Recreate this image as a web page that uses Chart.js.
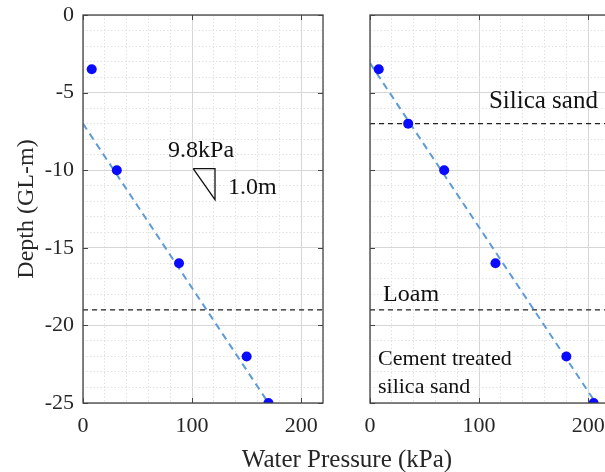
<!DOCTYPE html>
<html>
<head>
<meta charset="utf-8">
<script src="https://cdn.jsdelivr.net/npm/chart.js@4.4.1/dist/chart.umd.min.js"></script>
<style>
  html, body { margin: 0; padding: 0; background: #fff; }
  #wrap { position: relative; width: 605px; height: 472px; overflow: hidden; }
  #left { position: absolute; left: 0; top: 0; }
  #right { position: absolute; left: 345px; top: 0; }
  #xtitle {
    position: absolute; left: 197px; top: 444px; width: 300px;
    text-align: center; font: 25px "Liberation Serif", serif; color: #262626;
    line-height: 30px;
  }
</style>
</head>
<body>
<div id="wrap">
  <canvas id="left" width="345" height="472"></canvas>
  <canvas id="right" width="280" height="472"></canvas>
  <div id="xtitle">Water Pressure (kPa)</div>
</div>
<script>
// measured pore water pressure, left panel
const pressureA = [8, 31, 88, 150, 170]
const depthA = [-3.5, -10, -16, -22, -25]
// measured pore water pressure, right panel
const pressureB = [8, 35, 68, 115, 180, 205]
const depthB = [-3.5, -7, -10, -16, -22, -25]

// hydrostatic fit lines
const fitPressureA = [0, 170]
const fitDepthA = [-7, -25]
const fitPressureB = [0, 207]
const fitDepthB = [-3.1, -25]

// layer boundaries
const layersA = [-19]
const layersB = [-7, -19]

// slope triangle (9.8kPa / 1.0m)
const trianglePressure = [101, 121, 121, 101]
const triangleDepth = [-9.9, -9.9, -11.9, -9.9]

const xMin = 0, xMax = 220
const yMin = -25, yMax = 0
const xTicks = [0, 100, 200]
const yTicks = [0, -5, -10, -15, -20, -25]

const notesA = [
  { text: '9.8kPa', x: 78, y: -8.75, size: 24 },
  { text: '1.0m', x: 133, y: -11.1, size: 24 },
]
const notesB = [
  { text: 'Silica sand', x: 109, y: -5.6, size: 25 },
  { text: 'Loam', x: 12, y: -18.0, size: 24 },
  { text: 'Cement treated', x: 7.3, y: -22.2, size: 22 },
  { text: 'silica sand', x: 7.3, y: -24.0, size: 22 },
]

const FONT = '"Liberation Serif", serif'
const toPoints = (xs, ys) => xs.map((x, i) => ({ x, y: ys[i] }))

// box + inward ticks on all sides, like the original figure
const frame = {
  id: 'frame',
  afterDraw(chart) {
    const { ctx, chartArea: a, scales } = chart
    ctx.save()
    ctx.strokeStyle = '#444'
    ctx.lineWidth = 1.3
    ctx.strokeRect(a.left, a.top, a.right - a.left, a.bottom - a.top)
    ctx.lineWidth = 1
    ctx.beginPath()
    xTicks.forEach(v => {
      const px = Math.round(scales.x.getPixelForValue(v)) + 0.5
      ctx.moveTo(px, a.bottom); ctx.lineTo(px, a.bottom - 5)
      ctx.moveTo(px, a.top); ctx.lineTo(px, a.top + 5)
    })
    yTicks.forEach(v => {
      const py = Math.round(scales.y.getPixelForValue(v)) + 0.5
      ctx.moveTo(a.left, py); ctx.lineTo(a.left + 5, py)
      ctx.moveTo(a.right, py); ctx.lineTo(a.right - 5, py)
    })
    ctx.stroke()
    ctx.restore()
  }
}

const notes = {
  id: 'notes',
  afterDatasetsDraw(chart, args, opts) {
    const { ctx, scales } = chart
    ctx.save()
    ctx.fillStyle = '#111'
    ctx.textAlign = 'left'
    ctx.textBaseline = 'middle'
    ;(opts.items || []).forEach(n => {
      ctx.font = n.size + 'px ' + FONT
      ctx.fillText(n.text, scales.x.getPixelForValue(n.x), scales.y.getPixelForValue(n.y))
    })
    ctx.restore()
  }
}

function makeScales(showY, yWidth) {
  return {
    x: {
      type: 'linear', min: xMin, max: xMax,
      afterFit: s => { s.height = 69; s.paddingLeft = 0; s.paddingRight = 0 },
      ticks: {
        stepSize: 20, autoSkip: false, maxRotation: 0, padding: 10,
        color: '#262626', font: { family: FONT, size: 22 },
        callback: v => (v % 100 === 0 ? String(v) : '')
      },
      grid: {
        drawTicks: false,
        color: c => (c.tick && c.tick.value % 100 === 0 ? '#d6d6d6' : '#e2e2e2'),
        lineWidth: 1
      },
      border: { display: false, dash: c => (c.tick && c.tick.value % 100 !== 0 ? [1.5, 2] : []) }
    },
    y: {
      type: 'linear', min: yMin, max: yMax,
      afterFit: s => { s.width = yWidth; s.paddingTop = 0; s.paddingBottom = 0 },
      title: {
        display: showY, text: 'Depth (GL-m)', color: '#262626',
        font: { family: FONT, size: 24 }, padding: { top: 12, bottom: 0 }
      },
      ticks: {
        display: showY, stepSize: 1, autoSkip: false, padding: 9,
        color: '#262626', font: { family: FONT, size: 22 },
        callback: v => (v % 5 === 0 ? String(v) : '')
      },
      grid: {
        drawTicks: false,
        color: c => (c.tick && c.tick.value % 5 === 0 ? '#d6d6d6' : '#e2e2e2'),
        lineWidth: 1
      },
      border: { display: false, dash: c => (c.tick && c.tick.value % 5 !== 0 ? [1.5, 2] : []) }
    }
  }
}

function makeDatasets(px, dy, fitX, fitY, layers, extra) {
  const sets = [
    {
      label: 'measured', data: toPoints(px, dy), order: 0,
      pointRadius: 5, pointBackgroundColor: '#0a0aff', pointBorderWidth: 0, showLine: false
    },
    {
      label: 'fit', data: toPoints(fitX, fitY), order: 2, showLine: true,
      borderColor: '#5f9bd6', borderWidth: 2, borderDash: [7, 5], pointRadius: 0
    }
  ]
  layers.forEach(d => {
    sets.push({
      label: 'layer', data: toPoints([xMin, xMax], [d, d]), order: 3, showLine: true,
      borderColor: '#222', borderWidth: 1.3, borderDash: [5, 4], pointRadius: 0
    })
  })
  return sets.concat(extra || [])
}

function build(id, datasets, showY, yWidth, padRight, items) {
  return new Chart(document.getElementById(id), {
    type: 'scatter',
    data: { datasets },
    options: {
      responsive: false,
      animation: false,
      devicePixelRatio: 1,
      layout: { padding: { top: 15, right: padRight, left: 0, bottom: 0 } },
      plugins: { legend: { display: false }, tooltip: { enabled: false }, notes: { items } },
      scales: makeScales(showY, yWidth)
    },
    plugins: [frame, notes]
  })
}

const triangle = {
  label: 'slope', data: toPoints(trianglePressure, triangleDepth), order: 1, showLine: true,
  borderColor: '#111', borderWidth: 1.3, pointRadius: 0
}

build('left', makeDatasets(pressureA, depthA, fitPressureA, fitDepthA, layersA, [triangle]), true, 83, 22, notesA)
build('right', makeDatasets(pressureB, depthB, fitPressureB, fitDepthB, layersB), false, 25, 15, notesB)
</script>
</body>
</html>
